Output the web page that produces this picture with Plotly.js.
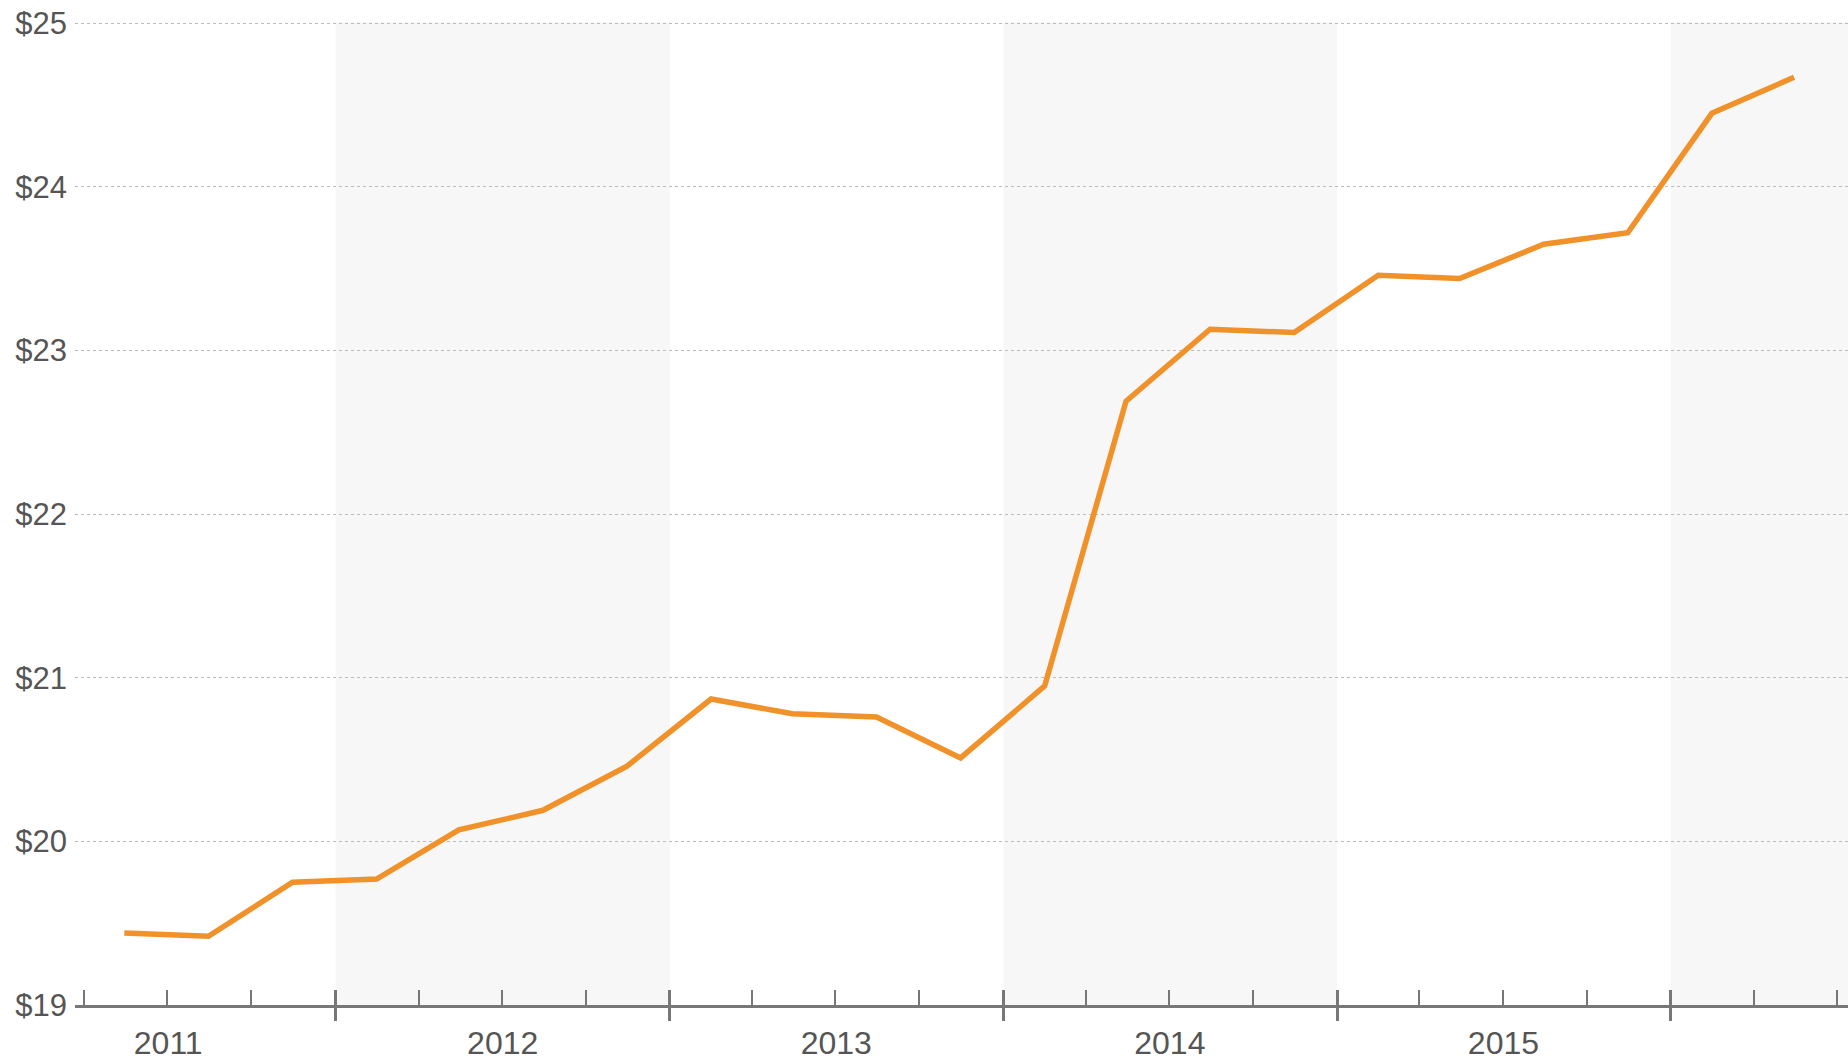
<!DOCTYPE html>
<html>
<head>
<meta charset="utf-8">
<script src="https://cdn.plot.ly/plotly-3.0.1.min.js"></script>
<style>
  html, body { margin: 0; padding: 0; background: #ffffff; }
  #chart { width: 1848px; height: 1063px; }
</style>
</head>
<body>
<div id="chart"></div>
<script>
// ---- data ----
const quarters = [
  '2011-05-15','2011-08-15','2011-11-15',
  '2012-02-15','2012-05-15','2012-08-15','2012-11-15',
  '2013-02-15','2013-05-15','2013-08-15','2013-11-15',
  '2014-02-15','2014-05-15','2014-08-15','2014-11-15',
  '2015-02-15','2015-05-15','2015-08-15','2015-11-15',
  '2016-02-15','2016-05-15'
];
const prices = [
  19.44, 19.42, 19.75,
  19.77, 20.07, 20.19, 20.46,
  20.87, 20.78, 20.76, 20.51,
  20.95, 22.69, 23.13, 23.11,
  23.46, 23.44, 23.65, 23.72,
  24.45, 24.67
];
const yearLabels = ['2011', '2012', '2013', '2014', '2015'];
const shadedYears = ['2012', '2014', '2016'];
const yTicks = [19, 20, 21, 22, 23, 24, 25];

// ---- styling ----
const xRange = ['2011-03-22', '2016-07-13'];
const axisGrey = '#777777';
const fontFamily = 'Liberation Sans, Arial, sans-serif';

const trace = {
  type: 'scatter',
  mode: 'lines',
  x: quarters,
  y: prices,
  line: { color: '#f0912a', width: 5.5 },
  hoverinfo: 'x+y',
  showlegend: false
};
// empty helper traces so the overlaying tick axes are built
const tickAxisUpper = { type: 'scatter', mode: 'lines', x: [], y: [], xaxis: 'x2', yaxis: 'y', showlegend: false, hoverinfo: 'skip' };
const tickAxisLower = { type: 'scatter', mode: 'lines', x: [], y: [], xaxis: 'x3', yaxis: 'y', showlegend: false, hoverinfo: 'skip' };

const shapes = shadedYears.map(y => ({
  type: 'rect', xref: 'x', yref: 'paper',
  x0: y + '-01-01', x1: (Number(y) + 1) + '-01-01',
  y0: 0, y1: 1,
  fillcolor: '#f7f7f7', line: { width: 0 }, layer: 'below'
}));

const layout = {
  width: 1848, height: 1063,
  margin: { l: 75, r: 0, t: 22, b: 58 },
  paper_bgcolor: '#ffffff',
  plot_bgcolor: '#ffffff',
  showlegend: false,
  shapes: shapes,
  xaxis: {
    type: 'date', range: xRange,
    showgrid: false, zeroline: false,
    showline: true, linecolor: axisGrey, linewidth: 3,
    ticks: '',
    tickmode: 'array',
    tickvals: yearLabels.map(y => y + '-07-02'),
    ticktext: yearLabels,
    tickfont: { family: fontFamily, size: 32, color: '#555555' },
    ticklabelstandoff: 8
  },
  xaxis2: {
    type: 'date', range: xRange, overlaying: 'x', anchor: 'y', side: 'bottom',
    showgrid: false, zeroline: false, showline: false, showticklabels: false,
    tickmode: 'linear', tick0: '2011-01-01', dtick: 'M12',
    ticks: 'inside', ticklen: 15, tickwidth: 3, tickcolor: axisGrey,
    minor: {
      tickmode: 'linear', tick0: '2011-01-01', dtick: 'M3',
      ticks: 'inside', ticklen: 15, tickwidth: 1.5, tickcolor: axisGrey,
      showgrid: false
    }
  },
  xaxis3: {
    type: 'date', range: xRange, overlaying: 'x', anchor: 'y', side: 'bottom',
    showgrid: false, zeroline: false, showline: false, showticklabels: false,
    tickmode: 'linear', tick0: '2011-01-01', dtick: 'M12',
    ticks: 'outside', ticklen: 15, tickwidth: 3, tickcolor: axisGrey
  },
  yaxis: {
    range: [19, 25.008],
    tickmode: 'array',
    tickvals: yTicks,
    ticktext: yTicks.map(v => '$' + v),
    showgrid: true, gridcolor: '#bbbbbb', griddash: 'dot', gridwidth: 1,
    zeroline: false, showline: false,
    ticks: '',
    tickfont: { family: fontFamily, size: 31, color: '#555555' },
    ticklabelstandoff: 7
  }
};

Plotly.newPlot('chart', [trace, tickAxisUpper, tickAxisLower], layout, { displayModeBar: false, responsive: false });
</script>
</body>
</html>
